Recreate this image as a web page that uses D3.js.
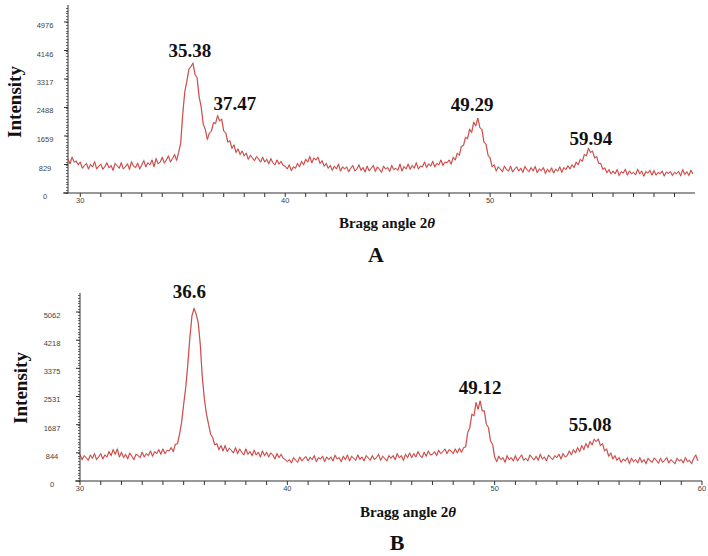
<!DOCTYPE html>
<html>
<head>
<meta charset="utf-8">
<script src="https://cdn.jsdelivr.net/npm/d3@7/dist/d3.min.js"></script>
<style>
  html, body { margin: 0; padding: 0; background: #fff; }
  svg { display: block; }
</style>
</head>
<body>
<svg id="chart" width="708" height="556"></svg>
<script>
// ---------- DATA ----------
// Panel A: intensity every 0.1 degree, 29.4 .. 59.9
const topStartAngle = 29.4;
const topIntensity = [
  980, 850, 1040, 900, 930, 820,
  900, 720, 800, 860, 700, 830, 760, 910, 700, 780,
  840, 690, 770, 880, 730, 800, 660, 860, 790, 720,
  880, 700, 760, 850, 690, 910, 780, 740, 870, 700,
  820, 940, 760, 880, 820, 960, 770, 1000, 850, 900,
  1040, 870, 960, 1080, 900, 1000, 1120, 950, 1180, 1450,
  2300, 2950, 3250, 3600, 3680, 3780, 3450, 3350, 2800, 2500,
  2000, 1850, 1560, 1740, 1800, 2050, 2020, 2250, 2100, 2150,
  1800, 1750, 1480, 1520, 1300, 1400, 1180, 1280, 1120, 1220,
  1080, 1160, 980, 1100, 1020, 940, 1060, 990, 900, 1040,
  900, 980, 850, 1000, 880, 820, 960, 840, 920, 800,
  780, 700, 820, 650, 760, 720, 860, 760, 920, 820,
  980, 900, 1060, 880, 1020, 960, 1040, 860, 940, 780,
  860, 720, 800, 660, 780, 700, 840, 640, 760, 700,
  760, 620, 720, 800, 640, 700, 820, 660, 740, 610,
  780, 640, 720, 800, 630, 760, 690, 600, 780, 700,
  740, 630, 800, 680, 720, 660, 840, 640, 770, 700,
  840, 690, 800, 720, 880, 700, 780, 760, 900, 740,
  850, 780, 920, 760, 860, 820, 960, 800, 900, 880,
  960, 840, 1040, 960, 1160, 1100, 1360, 1380, 1620, 1580,
  1860, 1760, 2060, 1950, 2180, 1900, 1850, 1480, 1420, 1100,
  1020, 760, 820, 640, 760, 700, 620, 780, 680, 640,
  780, 610, 700, 760, 640, 720, 600, 770, 680, 620,
  740, 640, 770, 590, 700, 650, 740, 570, 690, 610,
  730, 580, 690, 640, 760, 600, 740, 680, 790, 700,
  820, 740, 900, 820, 980, 920, 1120, 1080, 1300, 1180,
  1220, 1020, 1060, 860, 860, 690, 730, 590, 680, 560,
  640, 560, 680, 510, 620, 580, 690, 520, 640, 560,
  600, 530, 690, 560, 640, 490, 620, 580, 660, 520,
  650, 520, 600, 560, 640, 490, 610, 570, 620, 510,
  600, 560, 630, 500, 680, 540, 620, 510, 660, 550
];
// Panel B: intensity every 0.1 degree, 30.0 .. 59.8
const bottomStartAngle = 30.0;
const bottomIntensity = [
  800, 640, 760, 700, 620, 780, 680, 820, 640, 720,
  820, 660, 780, 720, 880, 760, 940, 800, 960, 720,
  860, 700, 800, 660, 840, 740, 640, 800, 760, 700,
  860, 720, 820, 760, 900, 740, 880, 820, 940, 800,
  960, 820, 920, 900, 1000, 880, 1100, 1120, 1400, 1750,
  2300, 2800, 3500, 4300, 4950, 5170, 5000, 4750, 4100, 3100,
  2450, 2000, 1700, 1400, 1300, 1080, 1120, 940, 1060, 900,
  1060, 880, 980, 920, 840, 1000, 820, 960, 860, 780,
  960, 800, 880, 760, 920, 780, 860, 720, 900, 760,
  860, 720, 840, 780, 660, 820, 700, 800, 680, 640,
  580, 640, 540, 700, 620, 560, 720, 600, 680, 730,
  600, 710, 640, 760, 580, 700, 660, 740, 580, 720,
  640, 720, 600, 770, 660, 700, 580, 740, 640, 780,
  600, 740, 680, 620, 780, 650, 720, 600, 760, 700,
  620, 760, 640, 700, 800, 620, 740, 680, 600, 760,
  680, 760, 640, 820, 700, 760, 620, 800, 700, 840,
  700, 820, 720, 880, 760, 700, 860, 740, 900, 780,
  800, 880, 760, 920, 820, 880, 960, 820, 940, 900,
  820, 960, 840, 980, 860, 1000, 1020, 1450, 1600, 2000,
  1950, 2350, 2150, 2400, 2100, 2100, 1700, 1600, 1200, 1100,
  720, 580, 740, 640, 700, 560, 760, 640, 700, 600,
  760, 600, 700, 780, 620, 680, 600, 780, 700, 630,
  740, 620, 800, 660, 720, 600, 780, 700, 640, 760,
  700, 800, 660, 820, 720, 760, 900, 780, 940, 840,
  1000, 880, 1060, 940, 1120, 1000, 1180, 1080, 1250, 1180,
  1260, 1060, 1120, 900, 960, 740, 840, 660, 760, 620,
  700, 560, 660, 600, 700, 520, 680, 580, 640, 540,
  700, 560, 640, 520, 680, 600, 560, 690, 620, 530,
  680, 560, 620, 700, 540, 640, 580, 520, 680, 600,
  640, 540, 700, 580, 620, 520, 680, 780, 600
];
const angleStep = 0.1;

const topYTicks = [0, 829, 1659, 2488, 3317, 4146, 4976];
const bottomYTicks = [0, 844, 1687, 2531, 3375, 4218, 5062];
const topXLabels = [30, 40, 50];
const bottomXLabels = [30, 40, 50, 60];

const topPeakLabels = ["35.38", "37.47", "49.29", "59.94"];
const topPeakAngles = [35.35, 37.55, 49.12, 54.92];
const topPeakLabelIntensity = [3960, 2415, 2386, 1397];

const bottomPeakLabels = ["36.6", "49.12", "55.08"];
const bottomPeakAngles = [35.28, 49.30, 54.60];
const bottomPeakLabelIntensity = [5481, 2606, 1498];

// ---------- DRAW ----------
const svg = d3.select("#chart");
const serif = "'Liberation Serif', 'Times New Roman', serif";
const sans = "'Liberation Sans', Arial, sans-serif";
const axisColor = "#333";

function drawPanel(cfg) {
  const g = svg.append("g");
  const x = d3.scaleLinear().domain(cfg.xDomain).range(cfg.xRange);
  const y = d3.scaleLinear().domain(cfg.yDomain).range(cfg.yRange);
  const data = cfg.values.map((v, i) => ({ a: cfg.start + i * angleStep, v }));
  const y0 = y(0);

  // x axis: line + ticks every 1 degree
  g.append("line")
    .attr("x1", cfg.xAxisStart).attr("x2", cfg.xRange[1])
    .attr("y1", y0).attr("y2", y0)
    .attr("stroke", axisColor).attr("stroke-width", 1);
  const xt = d3.range(30, cfg.xTickEnd + 1);
  g.selectAll(".xt").data(xt).join("line")
    .attr("x1", d => x(d)).attr("x2", d => x(d))
    .attr("y1", y0).attr("y2", y0 + 4)
    .attr("stroke", axisColor).attr("stroke-width", 1);
  g.selectAll(".xl").data(cfg.xLabels).join("text")
    .attr("x", d => x(d)).attr("y", y0 + 10)
    .attr("text-anchor", "middle")
    .attr("font-family", sans).attr("font-size", 7.5).attr("fill", "#444")
    .text(d => d);

  // y axis: line, major + minor ticks
  const xa = cfg.xRange[0];
  g.append("line")
    .attr("x1", xa).attr("x2", xa)
    .attr("y1", cfg.yRange[1]).attr("y2", y0)
    .attr("stroke", axisColor).attr("stroke-width", 1);
  const major = cfg.yTicks[1];
  const minor = d3.range(0, cfg.yDomain[1], major / 10);
  g.selectAll(".ym").data(minor).join("line")
    .attr("x1", xa - 2).attr("x2", xa)
    .attr("y1", d => Math.round(y(d)) + 0.5).attr("y2", d => Math.round(y(d)) + 0.5)
    .attr("stroke", axisColor).attr("stroke-width", 0.7);
  g.selectAll(".yM").data(cfg.yTicks).join("line")
    .attr("x1", xa - 4).attr("x2", xa)
    .attr("y1", d => y(d)).attr("y2", d => y(d))
    .attr("stroke", axisColor).attr("stroke-width", 1);
  g.selectAll(".yl").data(cfg.yTicks).join("text")
    .attr("x", cfg.yLabelX).attr("y", d => y(d) + 6)
    .attr("text-anchor", "middle")
    .attr("font-family", sans).attr("font-size", 7.5).attr("fill", "#444")
    .text(d => d);

  // data line
  const line = d3.line().x(d => x(d.a)).y(d => y(d.v));
  g.append("path").datum(data)
    .attr("d", line)
    .attr("fill", "none")
    .attr("stroke", "#9a8a8a").attr("stroke-width", 1.5).attr("opacity", 0.4);
  g.append("path").datum(data)
    .attr("d", line)
    .attr("fill", "none")
    .attr("stroke", "#d8302c").attr("stroke-width", 0.9);

  // peak labels
  g.selectAll(".pk").data(cfg.peakLabels).join("text")
    .attr("x", (d, i) => x(cfg.peakAngles[i]))
    .attr("y", (d, i) => y(cfg.peakInt[i]))
    .attr("text-anchor", "middle")
    .attr("font-family", serif).attr("font-weight", "bold").attr("font-size", 19)
    .attr("fill", "#111")
    .text(d => d);

  // y title
  g.append("text")
    .attr("transform", `translate(${cfg.yTitle[0]},${cfg.yTitle[1]}) rotate(-90)`)
    .attr("text-anchor", "middle")
    .attr("font-family", serif).attr("font-weight", "bold").attr("font-size", 19)
    .attr("fill", "#111")
    .text("Intensity");

  // x title
  const xt2 = g.append("text")
    .attr("x", cfg.xTitle[0]).attr("y", cfg.xTitle[1])
    .attr("text-anchor", "middle")
    .attr("font-family", serif).attr("font-weight", "bold").attr("font-size", 15)
    .attr("fill", "#111");
  xt2.append("tspan").text("Bragg angle 2");
  xt2.append("tspan").attr("font-style", "italic").text("θ");

  // panel letter
  g.append("text")
    .attr("x", cfg.letter[0]).attr("y", cfg.letter[1])
    .attr("text-anchor", "middle")
    .attr("font-family", serif).attr("font-weight", "bold").attr("font-size", 22)
    .attr("fill", "#111")
    .text(cfg.letterText);
}

drawPanel({
  values: topIntensity, start: topStartAngle,
  xDomain: [29.4, 60], xRange: [68, 695], xAxisStart: 63, xTickEnd: 59,
  yDomain: [0, 5470], yRange: [193, 5],
  yTicks: topYTicks, yLabelX: 45, xLabels: topXLabels,
  peakLabels: topPeakLabels, peakAngles: topPeakAngles, peakInt: topPeakLabelIntensity,
  yTitle: [21, 102], xTitle: [387, 228], letter: [376, 262], letterText: "A"
});

drawPanel({
  values: bottomIntensity, start: bottomStartAngle,
  xDomain: [30, 60], xRange: [80, 702], xAxisStart: 75, xTickEnd: 60,
  yDomain: [0, 5631], yRange: [481, 293],
  yTicks: bottomYTicks, yLabelX: 52, xLabels: bottomXLabels,
  peakLabels: bottomPeakLabels, peakAngles: bottomPeakAngles, peakInt: bottomPeakLabelIntensity,
  yTitle: [27, 388], xTitle: [408, 517], letter: [397, 550], letterText: "B"
});
</script>
</body>
</html>
